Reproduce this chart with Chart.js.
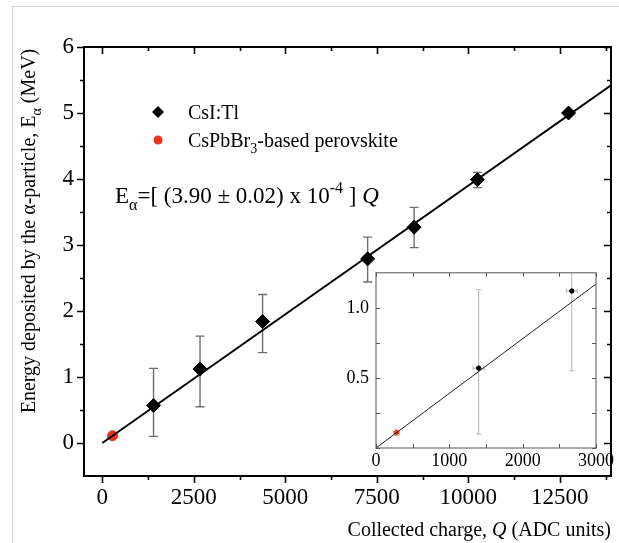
<!DOCTYPE html>
<html>
<head>
<meta charset="utf-8">
<script src="https://cdn.jsdelivr.net/npm/chart.js@4.4.1/dist/chart.umd.min.js"></script>
<style>
  body { margin: 0; background: #fff; }
  #wrap { position: relative; width: 619px; height: 543px; overflow: hidden; }
  #frame { position: absolute; left: 12px; top: 6px; right: -2px; bottom: -2px;
           border-left: 1px solid #d4d4d4; border-top: 1px solid #d4d4d4; }
  #main { position: absolute; left: 0; top: 0; }
  #inset { position: absolute; left: 330px; top: 255px; }
</style>
</head>
<body>
<div id="wrap">
  <div id="frame"></div>
  <canvas id="main" width="619" height="543"></canvas>
  <canvas id="inset" width="289" height="220"></canvas>
</div>
<script>
// ---- data ----
// CsI:Tl calibration points
const csiQ = [1400, 2670, 4380, 7250, 8520, 10250, 12740];
const csiE = [0.57, 1.12, 1.84, 2.79, 3.27, 3.99, 5.00];
const csiELow = [0.10, 0.55, 1.37, 2.44, 2.96, 3.87, 4.97];
const csiEHigh = [1.13, 1.62, 2.25, 3.12, 3.57, 4.10, 5.03];
const csiQErr = [75, 75, 80, 80, 80, 80, 80];

// CsPbBr3 perovskite point
const perQ = [280];
const perE = [0.11];
const perELow = [0.09];
const perEHigh = [0.13];
const perQErr = [40];

// linear fit E = (3.90e-4) Q
const fitQ = [0, 13900];
const fitE = [0, 5.42];
const insetFitQ = [0, 3000];
const insetFitE = [0, 1.17];

// ticks
const xTicks = [0, 2500, 5000, 7500, 10000, 12500];
const xMinor = [1250, 3750, 6250, 8750, 11250, 13750];
const yTicks = [0, 1, 2, 3, 4, 5, 6];
const yMinor = [0.5, 1.5, 2.5, 3.5, 4.5, 5.5];
const insetXTicks = [0, 1000, 2000, 3000];
const insetXMinor = [500, 1500, 2500];
const insetYTicks = [0, 0.5, 1.0];
const insetYMinor = [0.25, 0.75];

const FONT = "'Liberation Serif', 'Times New Roman', serif";
const RED = "#e8341c";

// draw a line of text with sub/superscript and italic parts
function drawRich(ctx, parts, x, y, size, align) {
  const fontFor = (p) => {
    const s = (p.sub || p.sup) ? Math.round(size * 0.68) : size;
    return (p.it ? "italic " : "") + s + "px " + FONT;
  };
  let total = 0;
  parts.forEach((p) => {
    ctx.font = fontFor(p);
    p.w = ctx.measureText(p.t).width;
    total += p.w;
  });
  let cx = align === "center" ? x - total / 2 : align === "right" ? x - total : x;
  ctx.textAlign = "left";
  ctx.textBaseline = "alphabetic";
  parts.forEach((p) => {
    ctx.font = fontFor(p);
    const dy = p.sub ? size * 0.3 : p.sup ? -size * 0.42 : 0;
    ctx.fillText(p.t, cx, y + dy);
    cx += p.w;
  });
}

// error bars from dataset arrays
const errorBars = {
  id: "errorBars",
  beforeDatasetsDraw(chart, args, opts) {
    const ctx = chart.ctx;
    const xs = chart.scales.x, ys = chart.scales.y;
    ctx.save();
    ctx.beginPath();
    ctx.rect(chart.chartArea.left, chart.chartArea.top,
             chart.chartArea.right - chart.chartArea.left,
             chart.chartArea.bottom - chart.chartArea.top);
    ctx.clip();
    chart.data.datasets.forEach((ds) => {
      if (!ds.errLow) return;
      ctx.strokeStyle = ds.errColor;
      ctx.lineWidth = ds.errWidth;
      ds.data.forEach((pt, i) => {
        const px = xs.getPixelForValue(pt.x);
        const py = ys.getPixelForValue(pt.y);
        const lo = ys.getPixelForValue(ds.errLow[i]);
        const hi = ys.getPixelForValue(ds.errHigh[i]);
        const c = ds.capSize;
        ctx.beginPath();
        ctx.moveTo(px, lo); ctx.lineTo(px, hi);
        ctx.moveTo(px - c, lo); ctx.lineTo(px + c, lo);
        ctx.moveTo(px - c, hi); ctx.lineTo(px + c, hi);
        if (ds.errQ) {
          const l = xs.getPixelForValue(pt.x - ds.errQ[i]);
          const r = xs.getPixelForValue(pt.x + ds.errQ[i]);
          ctx.moveTo(l, py); ctx.lineTo(r, py);
          ctx.moveTo(l, py - c); ctx.lineTo(l, py + c);
          ctx.moveTo(r, py - c); ctx.lineTo(r, py + c);
        }
        ctx.stroke();
      });
    });
    ctx.restore();
  },
};

// frame and tick marks (major/minor, in or out)
function frameTicks(opts) {
  return {
    id: "frameTicks",
    beforeDraw(chart) {
      const a = chart.chartArea, ctx = chart.ctx;
      ctx.save();
      ctx.fillStyle = "#fff";
      ctx.fillRect(a.left, a.top, a.right - a.left, a.bottom - a.top);
      ctx.restore();
    },
    afterDraw(chart) {
      const a = chart.chartArea, ctx = chart.ctx;
      const xs = chart.scales.x, ys = chart.scales.y;
      ctx.save();
      ctx.strokeStyle = opts.color;
      ctx.lineWidth = opts.width;
      ctx.strokeRect(a.left, a.top, a.right - a.left, a.bottom - a.top);
      ctx.lineWidth = opts.tickWidth;
      ctx.beginPath();
      const xt = (vals, len) => vals.forEach((v) => {
        const p = Math.round(xs.getPixelForValue(v)) + 0.5;
        ctx.moveTo(p, a.bottom); ctx.lineTo(p, a.bottom + opts.bottomDir * len);
        ctx.moveTo(p, a.top); ctx.lineTo(p, a.top + len);
      });
      const yt = (vals, len) => vals.forEach((v) => {
        const p = Math.round(ys.getPixelForValue(v)) + 0.5;
        ctx.moveTo(a.left, p); ctx.lineTo(a.left - opts.leftDir * len, p);
        ctx.moveTo(a.right, p); ctx.lineTo(a.right - len, p);
      });
      xt(opts.xMajor, opts.major); xt(opts.xMinor, opts.minor);
      yt(opts.yMajor, opts.major); yt(opts.yMinor, opts.minor);
      ctx.stroke();
      ctx.restore();
      if (opts.extra) opts.extra(chart);
    },
  };
}

// legend, equation and axis titles of the main plot
function mainText(chart) {
  const ctx = chart.ctx;
  ctx.save();
  ctx.fillStyle = "#000";
  // legend
  ctx.beginPath();
  ctx.moveTo(158, 106); ctx.lineTo(164, 112); ctx.lineTo(158, 118); ctx.lineTo(152, 112);
  ctx.closePath(); ctx.fill();
  ctx.fillStyle = RED;
  ctx.beginPath(); ctx.arc(158, 140, 4.5, 0, Math.PI * 2); ctx.fill();
  ctx.fillStyle = "#000";
  drawRich(ctx, [{ t: "CsI:Tl" }], 188, 119, 20, "left");
  drawRich(ctx, [{ t: "CsPbBr" }, { t: "3", sub: true }, { t: "-based perovskite" }], 188, 147, 20, "left");
  // fit equation
  drawRich(ctx, [
    { t: "E" }, { t: "\u03b1", sub: true }, { t: "=[ (3.90 \u00b1 0.02) x 10" },
    { t: "-4", sup: true }, { t: " ] " }, { t: "Q", it: true },
  ], 115, 203, 23, "left");
  // x title
  drawRich(ctx, [{ t: "Collected charge, " }, { t: "Q", it: true }, { t: " (ADC units)" }], 611, 536, 20, "right");
  // y title
  ctx.translate(35, 231);
  ctx.rotate(-Math.PI / 2);
  drawRich(ctx, [
    { t: "Energy deposited by the \u03b1-particle, E" }, { t: "\u03b1", sub: true }, { t: " (MeV)" },
  ], 0, 0, 20, "center");
  ctx.restore();
}

const toPts = (xs, ys) => xs.map((x, i) => ({ x: x, y: ys[i] }));
const plain = (v) => String(v);

// ---- main chart ----
new Chart(document.getElementById("main"), {
  type: "scatter",
  data: {
    datasets: [
      {
        type: "line",
        data: toPts(fitQ, fitE),
        borderColor: "#000",
        borderWidth: 2,
        pointRadius: 0,
        fill: false,
      },
      {
        label: "CsI:Tl",
        data: toPts(csiQ, csiE),
        pointStyle: "rectRot",
        pointRadius: 7,
        backgroundColor: "#000",
        borderColor: "#000",
        errLow: csiELow,
        errHigh: csiEHigh,
        errColor: "#6e6e6e",
        errWidth: 1.4,
        capSize: 4.5,
      },
      {
        label: "CsPbBr3-based perovskite",
        data: toPts(perQ, perE),
        pointStyle: "circle",
        pointRadius: 5,
        backgroundColor: RED,
        borderColor: RED,
      },
    ],
  },
  options: {
    responsive: false,
    animation: false,
    layout: { padding: { top: 47, right: 6, left: 0, bottom: 0 } },
    plugins: { legend: { display: false }, tooltip: { enabled: false } },
    scales: {
      x: {
        type: "linear",
        min: -500,
        max: 13900,
        afterBuildTicks: (s) => { s.ticks = xTicks.map((v) => ({ value: v })); },
        afterFit: (s) => { s.height = 67; },
        grid: { display: false, drawTicks: false },
        border: { display: false },
        ticks: { color: "#000", font: { family: FONT, size: 23 }, padding: 8, maxRotation: 0, callback: plain },
      },
      y: {
        min: -0.5,
        max: 6,
        afterBuildTicks: (s) => { s.ticks = yTicks.map((v) => ({ value: v })); },
        afterFit: (s) => { s.width = 84; },
        grid: { display: false, drawTicks: false },
        border: { display: false },
        ticks: { color: "#000", font: { family: FONT, size: 23 }, padding: 10, callback: plain },
      },
    },
  },
  plugins: [errorBars, frameTicks({
    color: "#000", width: 2, tickWidth: 1.6, major: 7, minor: 4,
    bottomDir: 1, leftDir: 1,
    xMajor: xTicks, xMinor: xMinor, yMajor: yTicks, yMinor: yMinor,
    extra: mainText,
  })],
});

// ---- inset ----
new Chart(document.getElementById("inset"), {
  type: "scatter",
  data: {
    datasets: [
      {
        type: "line",
        data: toPts(insetFitQ, insetFitE),
        borderColor: "#222",
        borderWidth: 1,
        pointRadius: 0,
        fill: false,
      },
      {
        data: toPts(csiQ, csiE),
        pointRadius: 2.2,
        backgroundColor: "#000",
        borderColor: "#000",
        errLow: csiELow,
        errHigh: csiEHigh,
        errQ: csiQErr,
        errColor: "#b4b4b4",
        errWidth: 1,
        capSize: 2.5,
      },
      {
        data: toPts(perQ, perE),
        pointRadius: 2.2,
        backgroundColor: RED,
        borderColor: RED,
        errLow: perELow,
        errHigh: perEHigh,
        errQ: perQErr,
        errColor: "#f4a9a0",
        errWidth: 1,
        capSize: 2.5,
      },
    ],
  },
  options: {
    responsive: false,
    animation: false,
    layout: { padding: { top: 17, right: 23, left: 0, bottom: 0 } },
    plugins: { legend: { display: false }, tooltip: { enabled: false } },
    scales: {
      x: {
        type: "linear",
        min: 0,
        max: 3000,
        afterBuildTicks: (s) => { s.ticks = insetXTicks.map((v) => ({ value: v })); },
        afterFit: (s) => { s.height = 27; },
        grid: { display: false, drawTicks: false },
        border: { display: false },
        ticks: { color: "#000", font: { family: FONT, size: 18 }, padding: 2, maxRotation: 0, callback: plain },
      },
      y: {
        min: 0,
        max: 1.25,
        afterBuildTicks: (s) => { s.ticks = insetYTicks.map((v) => ({ value: v })); },
        afterFit: (s) => { s.width = 46; },
        grid: { display: false, drawTicks: false },
        border: { display: false },
        ticks: {
          color: "#000", font: { family: FONT, size: 18 }, padding: 7,
          callback: (v) => (v === 0 ? "" : v.toFixed(1)),
        },
      },
    },
  },
  plugins: [errorBars, frameTicks({
    color: "#555", width: 1, tickWidth: 1, major: 4, minor: 4,
    bottomDir: -1, leftDir: -1,
    xMajor: insetXTicks, xMinor: insetXMinor, yMajor: insetYTicks, yMinor: insetYMinor,
  })],
});
</script>
</body>
</html>
